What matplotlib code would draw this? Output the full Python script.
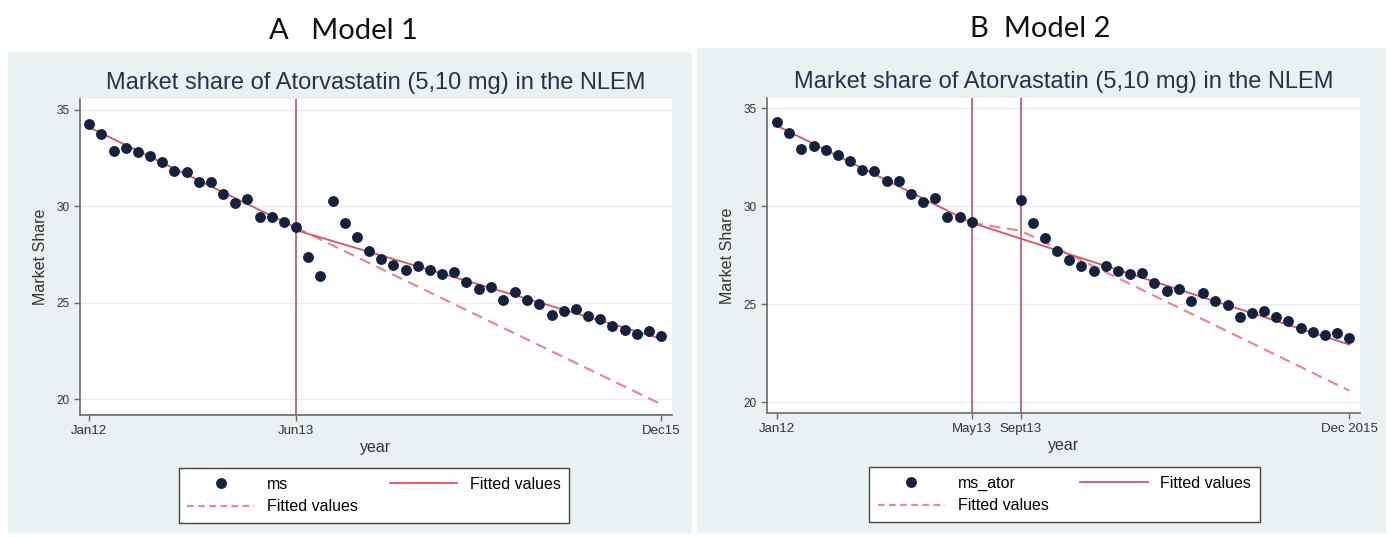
import matplotlib
matplotlib.use("Agg")
import matplotlib.pyplot as plt
from matplotlib.patches import Rectangle
from matplotlib.lines import Line2D
import numpy as np

# monthly market share of atorvastatin, Jan 2012 .. Dec 2015
ms = [34.27, 33.74, 32.90, 33.05, 32.84, 32.62, 32.32, 31.85, 31.80, 31.28,
      31.29, 30.64, 30.20, 30.39, 29.45, 29.45, 29.18, 28.95, 27.40, 26.39,
      30.29, 29.15, 28.40, 27.70, 27.27, 26.95, 26.71, 26.93, 26.70, 26.52,
      26.58, 26.08, 25.70, 25.80, 25.15, 25.57, 25.15, 24.94, 24.36, 24.57,
      24.68, 24.33, 24.17, 23.78, 23.59, 23.41, 23.54, 23.28]
months = np.arange(len(ms))

# model 1: break at Jun13
breaks_a = [17]
ticks_a = [0, 17, 47]
ticklabels_a = ["Jan12", "Jun13", "Dec15"]
fit_pre_a_x, fit_pre_a_y = [0, 17], [34.10, 28.90]
fit_post_a_x, fit_post_a_y = [17, 47], [28.77, 23.15]
fit_cf_a_x, fit_cf_a_y = [17, 47], [28.90, 19.75]

# model 2: transition May13 - Sept13 left out
breaks_b = [16, 20]
excluded_b = [17, 18, 19]
ticks_b = [0, 16, 20, 47]
ticklabels_b = ["Jan12", "May13", "Sept13", "Dec 2015"]
fit_pre_b_x, fit_pre_b_y = [0, 16], [34.10, 29.15]
fit_post_b_x, fit_post_b_y = [16, 47], [29.15, 22.95]
fit_cf_b_x, fit_cf_b_y = [16, 20, 47], [29.15, 28.75, 20.60]

W, H = 1389, 537
BG = "#e9f1f3"
DOT = "#15223f"
FIT = "#d9555f"
CF = "#e58c8f"
VLINE = "#c2606b"
AXC = "#6a6a6a"
TXT = "#333333"
plt.rcParams["font.family"] = ["Liberation Sans", "DejaVu Sans"]


def px_axes(fig, x0, y0, x1, y1):
    return fig.add_axes([x0 / W, 1 - y1 / H, (x1 - x0) / W, (y1 - y0) / H])


def draw_panel(ax, x, y, fits, cf, breaks, ticks, ticklabels, xlim, ylim, name):
    ax.set_facecolor("white")
    for s in ["top", "right"]:
        ax.spines[s].set_visible(False)
    for s in ["left", "bottom"]:
        ax.spines[s].set_color(AXC)
        ax.spines[s].set_linewidth(1.2)
    ax.set_yticks([20, 25, 30, 35])
    ax.grid(axis="y", color="#ececec", lw=1.0)
    ax.set_axisbelow(True)
    for b in breaks:
        ax.axvline(b, color=VLINE, lw=1.3, zorder=2)
    ax.plot(cf[0], cf[1], color=CF, lw=1.6, ls=(0, (5, 3)), zorder=3)
    for fx, fy in fits:
        ax.plot(fx, fy, color=FIT, lw=1.3, zorder=3)
    ax.plot(x, y, "o", color=DOT, ms=6.8, zorder=4)
    ax.set_xticks(ticks)
    ax.set_xticklabels(ticklabels)
    ax.set_xlim(*xlim)
    ax.set_ylim(*ylim)
    ax.tick_params(axis="both", colors=AXC, length=4, width=1.0, labelcolor=TXT)
    ax.tick_params(axis="y", labelsize=8.5)
    ax.tick_params(axis="x", labelsize=9.5)
    ax.set_xlabel("year", fontsize=11.5, color=TXT, labelpad=2)
    ax.set_ylabel("Market Share", fontsize=11.5, color=TXT, labelpad=6)
    ax.set_title("Market share of Atorvastatin (5,10 mg) in the NLEM",
                 fontsize=17, color="#27324a", pad=7)
    h_dot = Line2D([], [], marker="o", ls="none", color=DOT, ms=6.8)
    h_fit = Line2D([], [], color=FIT, lw=1.3)
    h_cf = Line2D([], [], color=CF, lw=1.6, ls=(0, (3, 2)))
    return [h_dot, h_cf, h_fit], [name, "Fitted values", "Fitted values"]


def add_legend(ax, h, l, cx, cy):
    ax.legend(h, l, ncol=2, loc="center", bbox_to_anchor=(cx / W, 1 - cy / H),
              bbox_transform=fig.transFigure, fancybox=False, edgecolor="#444444",
              framealpha=1, fontsize=11.5, handlelength=4.2, columnspacing=2.0,
              handletextpad=0.8, borderpad=0.55, labelspacing=0.45)


fig = plt.figure(figsize=(W / 100, H / 100), dpi=100)
fig.patch.set_facecolor("white")
fig.patches.append(Rectangle((8 / W, 1 - 532 / H), 683 / W, 480 / H,
                             transform=fig.transFigure, color=BG, zorder=-5))
fig.patches.append(Rectangle((697 / W, 1 - 532 / H), 688 / W, 484 / H,
                             transform=fig.transFigure, color=BG, zorder=-5))

ax_a = px_axes(fig, 80, 99, 672, 415)
h, l = draw_panel(ax_a, months, ms,
                  [(fit_pre_a_x, fit_pre_a_y), (fit_post_a_x, fit_post_a_y)],
                  (fit_cf_a_x, fit_cf_a_y), breaks_a, ticks_a, ticklabels_a,
                  (-0.76, 47.9), (19.19, 35.57), "ms")
add_legend(ax_a, h, l, 374, 495.5)

mask_b = ~np.isin(months, excluded_b)
ax_b = px_axes(fig, 767, 98, 1360, 413)
h, l = draw_panel(ax_b, months[mask_b], np.array(ms)[mask_b],
                  [(fit_pre_b_x, fit_pre_b_y), (fit_post_b_x, fit_post_b_y)],
                  (fit_cf_b_x, fit_cf_b_y), breaks_b, ticks_b, ticklabels_b,
                  (-0.82, 47.88), (19.46, 35.51), "ms_ator")
add_legend(ax_b, h, l, 1064.5, 494.5)

fig.text(343 / W, 1 - 31 / H, "A   Model 1", ha="center", va="center",
         fontsize=21, family=["Lato", "DejaVu Sans"], color="#111111")
fig.text(1040 / W, 1 - 29 / H, "B  Model 2", ha="center", va="center",
         fontsize=21, family=["Lato", "DejaVu Sans"], color="#111111")

fig.savefig("out.png", dpi=100, facecolor="white")
